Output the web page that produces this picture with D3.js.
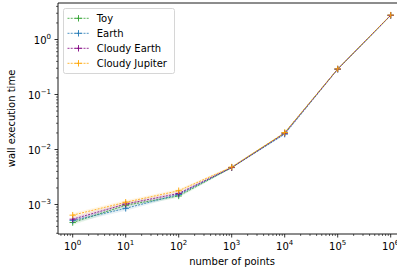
<!DOCTYPE html>
<html><head><meta charset="utf-8">
<script src="https://cdn.jsdelivr.net/npm/d3@7"></script>
<style>body{margin:0;background:#fff}svg{display:block;font-family:"DejaVu Sans",sans-serif}</style>
</head><body><svg id="c" width="397" height="271"></svg>
<script>
const xs = [1, 10, 100, 1000, 10000, 100000, 1000000];
const seriesNames = ["Toy", "Earth", "Cloudy Earth", "Cloudy Jupiter"];
const toy = [0.00047, 0.00097, 0.00143, 0.0047, 0.0200, 0.290, 2.75];
const earth = [0.00051, 0.00085, 0.00152, 0.0047, 0.0190, 0.288, 2.75];
const cloudyEarth = [0.00054, 0.00102, 0.00159, 0.0047, 0.0198, 0.290, 2.76];
const cloudyJupiter = [0.00064, 0.00110, 0.00178, 0.0048, 0.0203, 0.292, 2.78];
const relSpread = [0.10, 0.09, 0.07, 0.03, 0.03, 0.02, 0.02];
const colors = ["#2ca02c", "#1f77b4", "#800080", "#ffa500"];
const xTickExps = [0, 1, 2, 3, 4, 5, 6];
const yTickExps = [-3, -2, -1, 0];

const data = [toy, earth, cloudyEarth, cloudyJupiter];
const svg = d3.select("#c");
const L = 58, T = 3, B = 234;
const x = d3.scaleLog().domain([1, 1e6]).range([72.7, 390.7]);
const y = d3.scaleLog().domain([1e-3, 1]).range([204.5, 39.5]);
const R = 420;
const dash = "2,1.2";

const g = svg.append("g");
data.forEach((vals, i) => {
  const area = d3.area().x((d, j) => x(xs[j])).y0((d, j) => y(d * (1 - relSpread[j]))).y1((d, j) => y(d * (1 + relSpread[j])));
  g.append("path").attr("d", area(vals)).attr("fill", colors[i]).attr("fill-opacity", 0.1).attr("stroke", "none");
});
data.forEach((vals, i) => {
  const line = d3.line().x((d, j) => x(xs[j])).y(d => y(d));
  g.append("path").attr("d", line(vals)).attr("fill", "none").attr("stroke", colors[i])
    .attr("stroke-width", 0.8).attr("stroke-dasharray", dash);
  vals.forEach((d, j) => {
    const cx = x(xs[j]), cy = y(d), s = 3.2;
    g.append("path").attr("d", `M${cx - s},${cy}H${cx + s}M${cx},${cy - s}V${cy + s}`)
      .attr("stroke", colors[i]).attr("stroke-width", 0.9);
  });
});

svg.append("path").attr("d", `M${R},${T}H${L}V${B}H${R}`).attr("fill", "none").attr("stroke", "#000").attr("stroke-width", 0.9);

const xa = svg.append("g");
for (let e = 0; e <= 7; e++) {
  for (let k = 2; k <= 9; k++) {
    const px = x(k * Math.pow(10, e - 1));
    if (px > L && px < 397) xa.append("line").attr("x1", px).attr("x2", px).attr("y1", B).attr("y2", B + 2).attr("stroke", "#000").attr("stroke-width", 0.6);
  }
}
xTickExps.forEach(e => {
  const px = x(Math.pow(10, e));
  xa.append("line").attr("x1", px).attr("x2", px).attr("y1", B).attr("y2", B + 3.5).attr("stroke", "#000").attr("stroke-width", 0.8);
  const t = xa.append("text").attr("x", px).attr("y", B + 15.5).attr("text-anchor", "middle").attr("font-size", 10).attr("fill", "#000");
  t.append("tspan").text("10");
  t.append("tspan").attr("dy", -4.5).attr("font-size", 7).text(String(e).replace("-", "\u2212"));
});
const ya = svg.append("g");
for (let e = -4; e <= 0; e++) {
  for (let k = 2; k <= 9; k++) {
    const py = y(k * Math.pow(10, e));
    if (py < B && py > T) ya.append("line").attr("x1", L).attr("x2", L - 2).attr("y1", py).attr("y2", py).attr("stroke", "#000").attr("stroke-width", 0.6);
  }
}
yTickExps.forEach(e => {
  const py = y(Math.pow(10, e));
  ya.append("line").attr("x1", L).attr("x2", L - 3.5).attr("y1", py).attr("y2", py).attr("stroke", "#000").attr("stroke-width", 0.8);
  const t = ya.append("text").attr("x", L - 7).attr("y", py + 4).attr("text-anchor", "end").attr("font-size", 10).attr("fill", "#000");
  t.append("tspan").text("10");
  t.append("tspan").attr("dy", -4.5).attr("font-size", 7).text(String(e).replace("-", "\u2212"));
});

svg.append("text").attr("x", 232).attr("y", 265).attr("text-anchor", "middle").attr("font-size", 10).text("number of points");
svg.append("text").attr("transform", "translate(15,118.5) rotate(-90)").attr("text-anchor", "middle").attr("font-size", 10).text("wall execution time");

const lg = svg.append("g");
lg.append("rect").attr("x", 63.5).attr("y", 8.5).attr("width", 111).attr("height", 65).attr("rx", 2)
  .attr("fill", "#fff").attr("fill-opacity", 0.8).attr("stroke", "#ccc").attr("stroke-width", 0.8);
seriesNames.forEach((n, i) => {
  const ly = 18.3 + i * 15;
  lg.append("line").attr("x1", 67.5).attr("x2", 89.5).attr("y1", ly).attr("y2", ly).attr("stroke", colors[i]).attr("stroke-width", 0.8).attr("stroke-dasharray", dash);
  lg.append("path").attr("d", `M75.3,${ly}H81.7M78.5,${ly - 3.2}V${ly + 3.2}`).attr("stroke", colors[i]).attr("stroke-width", 0.9);
  lg.append("text").attr("x", 96.7).attr("y", ly + 3.6).attr("font-size", 10).text(n);
});
</script></body></html>
